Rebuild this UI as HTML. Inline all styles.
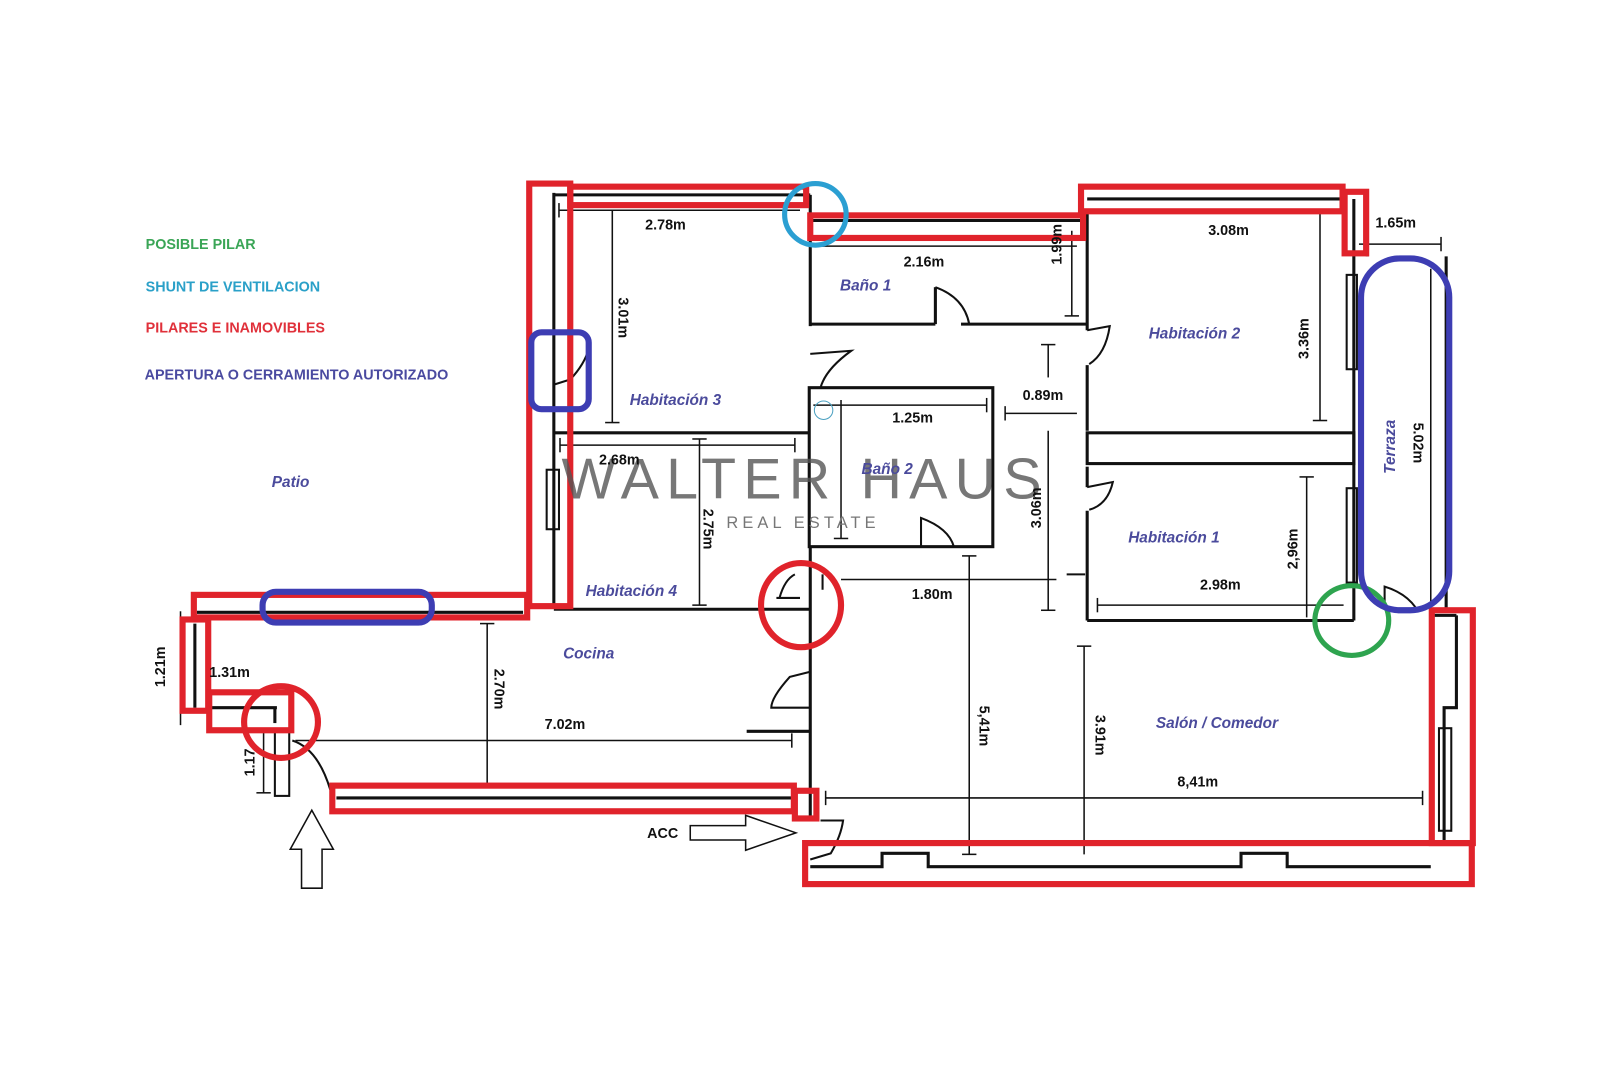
<!DOCTYPE html>
<html><head><meta charset="utf-8"><style>
html,body{margin:0;padding:0;background:#fff;}
svg{display:block;}
.lbl{font-family:"Liberation Sans",sans-serif;font-style:italic;font-weight:bold;fill:#4b4b9c;font-size:15px;}
.dim{font-family:"Liberation Sans",sans-serif;font-weight:bold;fill:#111;font-size:14px;}
.leg{font-family:"Liberation Sans",sans-serif;font-weight:bold;font-size:14px;}
</style></head><body>
<svg width="1600" height="1066" viewBox="0 0 1600 1066" xmlns="http://www.w3.org/2000/svg">
<rect width="1600" height="1066" fill="#fff"/>
<g transform="scale(1.02564)">
<!-- black walls -->
<g fill="none" stroke="#111" stroke-width="3">
  <line x1="540" y1="188" x2="540" y2="592"/>
  <line x1="555" y1="188" x2="555" y2="592"/>
  <line x1="540" y1="190" x2="790" y2="190"/>
  <line x1="790" y1="215" x2="1060" y2="215"/>
  <line x1="790" y1="190" x2="790" y2="318"/>
  <line x1="790" y1="316" x2="912" y2="316"/>
  <line x1="937" y1="316" x2="1060" y2="316"/>
  <polyline points="912,316 912,280"/>
  <path d="M912,280 Q940,290 945,316" stroke-width="2"/>
  <line x1="1060" y1="194" x2="1310" y2="194"/>
  <line x1="1060" y1="208" x2="1060" y2="322"/>
  <line x1="1060" y1="356" x2="1060" y2="420"/>
  <path d="M1060,322 L1082,318 Q1078,345 1062,355" stroke-width="2"/>
  <rect x="1060" y="422" width="260" height="30"/>
  <line x1="1060" y1="455" x2="1060" y2="475"/>
  <line x1="1060" y1="498" x2="1060" y2="605"/>
  <path d="M1060,475 L1085,470 Q1080,492 1062,497" stroke-width="2"/>
  <line x1="1060" y1="605" x2="1320" y2="605"/>
  <line x1="1320" y1="194" x2="1320" y2="605"/>
  <line x1="1333" y1="194" x2="1333" y2="250"/>
  <rect x="1313" y="268" width="10" height="92" stroke-width="2"/>
  <rect x="1313" y="476" width="10" height="92" stroke-width="2"/>
  <line x1="1410" y1="250" x2="1410" y2="594"/>
  <path d="M1350,590 L1350,572 Q1370,578 1380,592" stroke-width="2"/>
  <line x1="1398" y1="600" x2="1420" y2="600"/>
  <polyline points="1420,600 1420,690 1408,690 1408,820"/>
  <rect x="1403" y="710" width="12" height="100" stroke-width="2"/>
  <rect x="789" y="378" width="179" height="155"/>
  <path d="M898,533 L898,505 Q925,515 930,533" stroke-width="2"/>
  <line x1="540" y1="422" x2="790" y2="422"/>
  <line x1="540" y1="594" x2="790" y2="594"/>
  <line x1="790" y1="533" x2="790" y2="800"/>
  <path d="M790,345 L830,342 Q805,360 800,378 L828,378" stroke-width="2"/>
  <rect x="533" y="458" width="12" height="58" stroke-width="2"/>
  <path d="M540,340 L540,330 M540,375 L556,370 Q570,355 574,340" stroke-width="2"/>
  <path d="M760,583 Q765,565 775,560 M757,583 L780,583 M802,560 L802,575" stroke-width="2"/>
  <path d="M790,655 L770,660 Q752,680 752,690 L790,690" stroke-width="2"/>
  <line x1="728" y1="713" x2="790" y2="713"/>
  <line x1="192" y1="597" x2="510" y2="597"/>
  <line x1="190" y1="608" x2="190" y2="690"/>
  <line x1="206" y1="690" x2="270" y2="690"/>
  <line x1="268" y1="690" x2="268" y2="705"/>
  <rect x="268" y="712" width="14" height="64" stroke-width="2"/>
  <path d="M285,722 Q310,730 322,770" stroke-width="2"/>
  <line x1="328" y1="778" x2="775" y2="778"/>
  <polyline points="790,845 860,845 860,832 905,832 905,845 1210,845 1210,832 1255,832 1255,845 1395,845"/>
  <path d="M790,838 L810,832 Q820,815 822,800 L800,800" stroke-width="2"/>
  <line x1="1058" y1="560" x2="1040" y2="560" stroke-width="2"/>
</g>
<g fill="none" stroke="#111" stroke-width="1.5">
  <line x1="545" y1="205" x2="780" y2="205"/><line x1="545" y1="198" x2="545" y2="212"/>
  <line x1="597" y1="205" x2="597" y2="412"/><line x1="590" y1="412" x2="604" y2="412"/>
  <line x1="790" y1="240" x2="1050" y2="240"/>
  <line x1="1045" y1="225" x2="1045" y2="308"/><line x1="1038" y1="308" x2="1052" y2="308"/>
  <line x1="1070" y1="205" x2="1305" y2="205"/>
  <line x1="1287" y1="205" x2="1287" y2="410"/><line x1="1280" y1="410" x2="1294" y2="410"/>
  <line x1="1325" y1="238" x2="1405" y2="238"/><line x1="1405" y1="231" x2="1405" y2="245"/>
  <line x1="1395" y1="262" x2="1395" y2="590"/>
  <line x1="1022" y1="336" x2="1022" y2="368"/><line x1="1015" y1="336" x2="1029" y2="336"/>
  <line x1="980" y1="403" x2="1050" y2="403"/><line x1="980" y1="396" x2="980" y2="410"/>
  <line x1="1022" y1="420" x2="1022" y2="595"/><line x1="1015" y1="595" x2="1029" y2="595"/>
  <line x1="793" y1="395" x2="962" y2="395"/><line x1="962" y1="388" x2="962" y2="402"/>
  <line x1="820" y1="390" x2="820" y2="525"/><line x1="813" y1="525" x2="827" y2="525"/>
  <line x1="546" y1="434" x2="775" y2="434"/><line x1="546" y1="427" x2="546" y2="441"/><line x1="775" y1="427" x2="775" y2="441"/>
  <line x1="682" y1="428" x2="682" y2="590"/><line x1="675" y1="428" x2="689" y2="428"/><line x1="675" y1="590" x2="689" y2="590"/>
  <line x1="820" y1="565" x2="1030" y2="565"/>
  <line x1="945" y1="542" x2="945" y2="833"/><line x1="938" y1="542" x2="952" y2="542"/><line x1="938" y1="833" x2="952" y2="833"/>
  <line x1="1057" y1="630" x2="1057" y2="833"/><line x1="1050" y1="630" x2="1064" y2="630"/>
  <line x1="1070" y1="590" x2="1310" y2="590"/><line x1="1070" y1="583" x2="1070" y2="597"/>
  <line x1="1274" y1="465" x2="1274" y2="602"/><line x1="1267" y1="465" x2="1281" y2="465"/>
  <line x1="805" y1="778" x2="1387" y2="778"/><line x1="805" y1="771" x2="805" y2="785"/><line x1="1387" y1="771" x2="1387" y2="785"/>
  <line x1="288" y1="722" x2="772" y2="722"/><line x1="772" y1="715" x2="772" y2="729"/>
  <line x1="475" y1="608" x2="475" y2="768"/><line x1="468" y1="608" x2="482" y2="608"/>
  <line x1="176" y1="596" x2="176" y2="707"/>
  <line x1="257" y1="710" x2="257" y2="773"/><line x1="250" y1="773" x2="264" y2="773"/>
</g>
<g fill="#fff" stroke="#111" stroke-width="1.5">
  <polygon points="294,866 294,828 283,828 304,790 325,828 314,828 314,866"/>
  <polygon points="673,805 727,805 727,795 776,812 727,829 727,819 673,819"/>
</g>
<g fill="none" stroke="#e0232b" stroke-width="6">
  <rect x="516" y="179" width="40" height="412"/>
  <rect x="556" y="182" width="230" height="18"/>
  <rect x="790" y="210" width="266" height="22"/>
  <rect x="1054" y="182" width="255" height="24"/>
  <rect x="1311" y="187" width="21" height="60"/>
  <rect x="189" y="580" width="325" height="22"/>
  <rect x="178" y="604" width="25" height="89"/>
  <rect x="204" y="675" width="80" height="37"/>
  <rect x="324" y="766" width="450" height="25"/>
  <rect x="775" y="771" width="21" height="27"/>
  <rect x="785" y="822" width="650" height="40"/>
  <rect x="1396" y="595" width="40" height="227"/>
  <ellipse cx="274" cy="704" rx="36" ry="35"/>
  <ellipse cx="781" cy="590" rx="39" ry="41"/>
</g>
<circle cx="795" cy="209" r="30" fill="none" stroke="#2b9fd2" stroke-width="5"/>
<circle cx="803" cy="400" r="9" fill="none" stroke="#4aa0c0" stroke-width="1"/>
<ellipse cx="1318" cy="605" rx="36" ry="34" fill="none" stroke="#2ea44f" stroke-width="5"/>
<g fill="none" stroke="#3d3db3" stroke-width="6">
  <rect x="1327" y="252" width="86" height="343" rx="38"/>
  <rect x="518" y="324" width="56" height="75" rx="10"/>
  <rect x="256" y="577" width="165" height="30" rx="13"/>
</g>
<text x="785" y="486" text-anchor="middle" font-family="Liberation Sans, sans-serif" font-size="56" fill="#555" fill-opacity="0.8" letter-spacing="7">WALTER HAUS</text>
<text x="783" y="515" text-anchor="middle" font-family="Liberation Sans, sans-serif" font-size="16" fill="#777" letter-spacing="4">REAL ESTATE</text>
<text class="leg" x="142" y="243" fill="#3aa556">POSIBLE PILAR</text>
<text class="leg" x="142" y="284" fill="#2aa0c8">SHUNT DE VENTILACION</text>
<text class="leg" x="142" y="324" fill="#e0303a">PILARES E INAMOVIBLES</text>
<text class="leg" x="141" y="370" fill="#4a4aa0">APERTURA O CERRAMIENTO AUTORIZADO</text>
<text class="lbl" x="265" y="475">Patio</text>
<text class="lbl" x="819" y="283">Baño 1</text>
<text class="lbl" x="614" y="395">Habitación 3</text>
<text class="lbl" x="840" y="462">Baño 2</text>
<text class="lbl" x="1120" y="330">Habitación 2</text>
<text class="lbl" x="1100" y="529">Habitación 1</text>
<text class="lbl" x="571" y="581">Habitación 4</text>
<text class="lbl" x="549" y="642" font-size="17">Cocina</text>
<text class="lbl" x="1127" y="710" font-size="17">Salón / Comedor</text>
<text class="lbl" transform="translate(1360,462) rotate(-90)">Terraza</text>
<text class="dim" x="629" y="224">2.78m</text>
<text class="dim" x="881" y="260">2.16m</text>
<text class="dim" x="1178" y="229">3.08m</text>
<text class="dim" x="1341" y="222">1.65m</text>
<text class="dim" x="997" y="390">0.89m</text>
<text class="dim" x="870" y="412">1.25m</text>
<text class="dim" x="584" y="453">2.68m</text>
<text class="dim" x="889" y="584">1.80m</text>
<text class="dim" x="1170" y="575">2.98m</text>
<text class="dim" x="1148" y="767">8,41m</text>
<text class="dim" x="531" y="711">7.02m</text>
<text class="dim" x="204" y="660">1.31m</text>
<text class="dim" transform="translate(603,290) rotate(90)">3.01m</text>
<text class="dim" transform="translate(1035,258) rotate(-90)">1.99m</text>
<text class="dim" transform="translate(1276,350) rotate(-90)">3.36m</text>
<text class="dim" transform="translate(1378,412) rotate(90)">5.02m</text>
<text class="dim" transform="translate(1015,515) rotate(-90)">3.06m</text>
<text class="dim" transform="translate(686,496) rotate(90)">2.75m</text>
<text class="dim" transform="translate(1265,555) rotate(-90)">2,96m</text>
<text class="dim" transform="translate(955,688) rotate(90)">5,41m</text>
<text class="dim" transform="translate(1068,697) rotate(90)">3.91m</text>
<text class="dim" transform="translate(482,652) rotate(90)">2.70m</text>
<text class="dim" transform="translate(161,670) rotate(-90)">1.21m</text>
<text class="dim" transform="translate(248,757) rotate(-90)">1.17</text>
<text class="dim" x="631" y="817">ACC</text>
</g>
</svg>
</body></html>
